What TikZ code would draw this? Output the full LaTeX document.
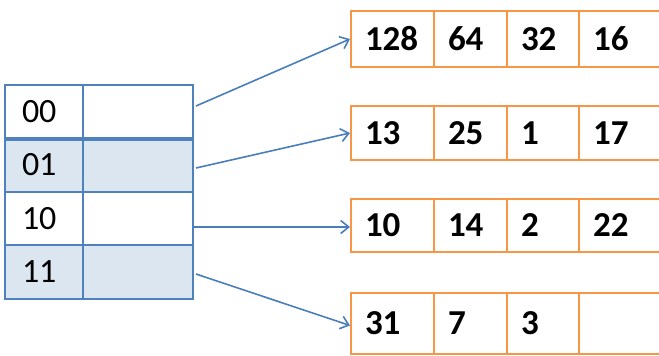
\documentclass[tikz,border=0pt]{standalone}
\usepackage{fontspec}
\setmainfont{Carlito}
\usetikzlibrary{arrows.meta}
\definecolor{tblue}{RGB}{79,129,189}
\definecolor{tfill}{RGB}{220,230,241}
\definecolor{torange}{RGB}{247,150,70}
\definecolor{tarrow}{RGB}{74,126,187}
\begin{document}
\begin{tikzpicture}[x=1pt,y=-1pt,
  lcell/.style={draw=tblue,line width=2pt,rectangle,inner ysep=0pt,inner xsep=17pt,
    minimum height=53pt,font=\fontsize{34}{36}\selectfont,align=left},
  lkey/.style={lcell,text width=44pt,minimum width=78pt},
  lval/.style={lcell,text width=76pt,minimum width=110pt},
  shaded/.style={fill=tfill},
  rcell/.style={draw=torange,line width=2pt,rectangle,inner ysep=0pt,inner xsep=14pt,
    font=\fontsize{35}{38}\selectfont\bfseries,align=left},
  link/.style={draw=tarrow,line width=1.6pt,-{Straight Barb[length=8pt,width=13pt,line width=1.6pt]}}
]
\useasboundingbox (0,0) rectangle (659,356);
\clip (0,0) rectangle (659,356);
% left table
\node[lkey] (k0) at (44,111.5) {00};
\node[lval] (v0) at (138,111.5) {};
\node[lkey,shaded,minimum height=54pt] (k1) at (44,165) {01};
\node[lval,shaded,minimum height=54pt] (v1) at (138,165) {};
\node[lkey] (k2) at (44,218.5) {10};
\node[lval] (v2) at (138,218.5) {};
\node[lkey,shaded,minimum height=54pt] (k3) at (44,272) {11};
\node[lval,shaded,minimum height=54pt] (v3) at (138,272) {};
\draw[tblue,line width=3pt] (k0.south west) -- (v0.south east);
% right arrays
\foreach \r/\yc/\h/\a/\b/\c/\d in {1/39/56/128/64/32/16, 2/133/54/13/25/1/17, 3/225.5/53/10/14/2/22, 4/323.5/61/31/7/3/{}}{
  \node[rcell,minimum height=\h pt,text width=55pt,minimum width=83pt] (r\r a) at (392.5,\yc) {\a};
  \node[rcell,minimum height=\h pt,text width=45pt,minimum width=73pt] (r\r b) at (470.5,\yc) {\b};
  \node[rcell,minimum height=\h pt,text width=44pt,minimum width=72pt] (r\r c) at (543,\yc) {\c};
  \node[rcell,minimum height=\h pt,text width=62pt,minimum width=90pt] (r\r d) at (624,\yc) {\d};
}
% arrows
\draw[link] ([xshift=2pt,yshift=5.5pt]v0.east) -- (r1a.west);
\draw[link] ([xshift=2pt,yshift=-3pt]v1.east) -- (r2a.west);
\draw[link] ([xshift=0pt,yshift=-8.5pt]v2.east) -- ([yshift=-1.5pt]r3a.west);
\draw[link] ([xshift=2pt,yshift=-2pt]v3.east) -- ([yshift=-2pt]r4a.west);
\end{tikzpicture}
\end{document}
